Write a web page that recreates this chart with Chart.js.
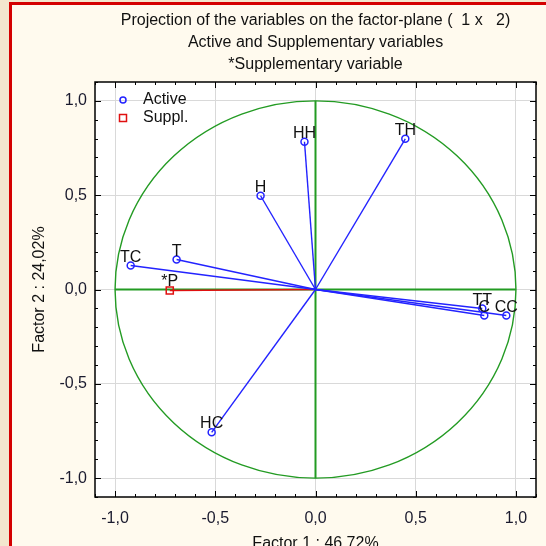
<!DOCTYPE html>
<html>
<head>
<meta charset="utf-8">
<script src="https://cdn.jsdelivr.net/npm/chart.js@4.4.1/dist/chart.umd.min.js"></script>
<style>
  html, body { margin: 0; padding: 0; width: 546px; height: 546px; overflow: hidden; background: #f3e6ce; }
  #frame { position: absolute; left: 9px; top: 2px; width: 600px; height: 600px; background: #fffaee;
           border-left: 3px solid #d40000; border-top: 3px solid #d40000; box-sizing: border-box; }
  #factorPlane { position: absolute; left: 0; top: 0; }
</style>
</head>
<body>
<div id="frame"></div>
<canvas id="factorPlane" width="546" height="560"></canvas>
<script>
// active variables, coordinates on factor 1 / factor 2
const variables = ["TC", "T", "H", "HH", "TH", "TT", "C", "CC", "HC"];
const factor1 = [-0.922, -0.693, -0.274, -0.055, 0.448, 0.832, 0.842, 0.952, -0.518];
const factor2 = [0.127, 0.159, 0.497, 0.783, 0.799, -0.101, -0.138, -0.138, -0.757];

// supplementary variable
const supplNames = ["*P"];
const supplF1 = [-0.727];
const supplF2 = [-0.005];

const tickValues = [-1, -0.5, 0, 0.5, 1];
const titleLines = ["Projection of the variables on the factor-plane (  1 x   2)",
                    "Active and Supplementary variables",
                    "*Supplementary variable"];

const blue = "#2323ff";
const red = "#e01010";
const green = "#239b23";
const font = "Liberation Sans, Arial, sans-serif";

let datasets = [];
for (let i = 0; i < variables.length; i++) {
    datasets.push({
        label: variables[i],
        data: [{x: 0, y: 0}, {x: factor1[i], y: factor2[i]}],
        showLine: true,
        borderColor: blue,
        borderWidth: 1.4,
        pointStyle: "circle",
        pointRadius: c => c.dataIndex === 0 ? 0 : 3.5,
        pointBorderColor: blue,
        pointBackgroundColor: "rgba(0,0,0,0)",
        pointBorderWidth: 1.5
    });
}
for (let i = 0; i < supplNames.length; i++) {
    datasets.push({
        label: supplNames[i],
        data: [{x: 0, y: 0}, {x: supplF1[i], y: supplF2[i]}],
        showLine: true,
        borderColor: red,
        borderWidth: 1.5,
        pointStyle: "rect",
        pointRadius: c => c.dataIndex === 0 ? 0 : 5,
        pointBorderColor: red,
        pointBackgroundColor: "rgba(0,0,0,0)",
        pointBorderWidth: 1.5
    });
}

const fmt = v => v.toFixed(1).replace(".", ",");

// plot background, unit circle, axes, ticks, frame, titles, legend and labels
const decorations = {
    id: "decorations",
    beforeDraw(chart) {
        const c = chart.ctx, a = chart.chartArea;
        c.save();
        c.fillStyle = "#ffffff";
        c.fillRect(a.left, a.top, a.right - a.left, a.bottom - a.top);
        c.restore();
    },
    beforeDatasetsDraw(chart) {
        const c = chart.ctx, xs = chart.scales.x, ys = chart.scales.y;
        c.save();
        c.strokeStyle = green;
        c.lineWidth = 1.4;
        const cx = xs.getPixelForValue(0), cy = ys.getPixelForValue(0);
        const rx = xs.getPixelForValue(1) - cx, ry = cy - ys.getPixelForValue(1);
        c.beginPath();
        c.ellipse(cx, cy, rx, ry, 0, 0, Math.PI * 2);
        c.stroke();
        c.lineWidth = 2;
        c.beginPath();
        c.moveTo(xs.getPixelForValue(-1), cy);
        c.lineTo(xs.getPixelForValue(1), cy);
        c.moveTo(cx, ys.getPixelForValue(-1));
        c.lineTo(cx, ys.getPixelForValue(1));
        c.stroke();
        c.restore();
    },
    afterDatasetsDraw(chart) {
        const c = chart.ctx, a = chart.chartArea, xs = chart.scales.x, ys = chart.scales.y;
        c.save();
        // point labels
        c.fillStyle = "#111";
        c.font = "16px " + font;
        c.textAlign = "center";
        c.textBaseline = "alphabetic";
        chart.data.datasets.forEach((ds, i) => {
            const pt = chart.getDatasetMeta(i).data[1];
            c.fillText(ds.label, pt.x, pt.y - 4);
        });
        // inner tick marks
        c.strokeStyle = "#000";
        c.lineWidth = 1;
        c.beginPath();
        for (let k = -11; k <= 11; k++) {
            const len = k % 5 === 0 ? 6 : 3;
            const px = Math.round(xs.getPixelForValue(k / 10)) + 0.5;
            const py = Math.round(ys.getPixelForValue(k / 10)) + 0.5;
            c.moveTo(px, a.bottom); c.lineTo(px, a.bottom - len);
            c.moveTo(px, a.top); c.lineTo(px, a.top + len);
            c.moveTo(a.left, py); c.lineTo(a.left + len, py);
            c.moveTo(a.right, py); c.lineTo(a.right - len, py);
        }
        c.stroke();
        c.lineWidth = 1.5;
        c.strokeRect(a.left, a.top, a.right - a.left, a.bottom - a.top);
        c.restore();
    },
    afterDraw(chart) {
        const c = chart.ctx, a = chart.chartArea;
        c.save();
        c.fillStyle = "#111";
        c.font = "16px " + font;
        c.textAlign = "center";
        c.textBaseline = "middle";
        const mid = (a.left + a.right) / 2;
        titleLines.forEach((t, i) => c.fillText(t, mid, 21 + i * 22));
        // legend
        c.textAlign = "left";
        c.fillText("Active", 143, 100);
        c.fillText("Suppl.", 143, 118);
        c.lineWidth = 1.5;
        c.strokeStyle = blue;
        c.beginPath();
        c.arc(123, 100, 3, 0, Math.PI * 2);
        c.stroke();
        c.strokeStyle = red;
        c.strokeRect(119.5, 114.5, 7, 7);
        c.restore();
    }
};

const ctx = document.getElementById("factorPlane").getContext("2d");

new Chart(ctx, {
    type: "scatter",
    data: { datasets: datasets },
    plugins: [decorations],
    options: {
        responsive: false,
        animation: false,
        layout: { padding: { top: 82, right: 10, left: 0, bottom: 0 } },
        plugins: {
            legend: { display: false },
            title: { display: false },
            tooltip: { enabled: false }
        },
        scales: {
            x: {
                type: "linear",
                min: -1.1,
                max: 1.1,
                afterBuildTicks: axis => { axis.ticks = tickValues.map(v => ({value: v})); },
                afterFit: axis => { axis.height = 63; },
                ticks: { callback: v => fmt(v), color: "#1a1a2e", font: { size: 16, family: font }, padding: 12 },
                grid: { color: "#d9d9d9", drawTicks: false },
                border: { display: false },
                title: { display: true, text: "Factor 1 : 46,72%", color: "#111",
                         font: { size: 16, family: font }, padding: { top: 0, bottom: 6.4 } }
            },
            y: {
                type: "linear",
                min: -1.1,
                max: 1.1,
                afterBuildTicks: axis => { axis.ticks = tickValues.map(v => ({value: v})); },
                afterFit: axis => { axis.width = 95; },
                ticks: { callback: v => fmt(v), color: "#1a1a2e", font: { size: 16, family: font }, padding: 8 },
                grid: { color: "#d9d9d9", drawTicks: false },
                border: { display: false },
                title: { display: true, text: "Factor 2 : 24,02%", color: "#111",
                         font: { size: 16, family: font }, padding: { top: 30, bottom: 0 } }
            }
        }
    }
});
</script>
</body>
</html>
